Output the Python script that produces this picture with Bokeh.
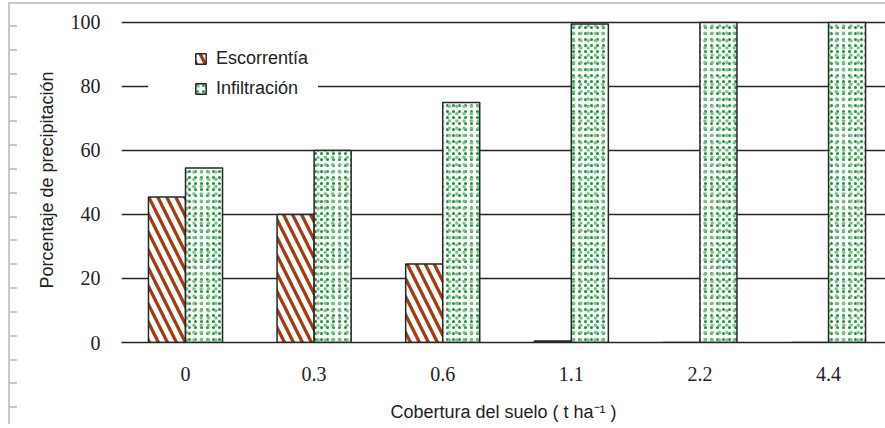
from bokeh.plotting import figure
from bokeh.models import (ColumnDataSource, Range1d, FixedTicker, Legend, LegendItem,
                          BoxAnnotation)
from bokeh.transform import dodge
from bokeh.embed import file_html
from bokeh.resources import INLINE

# ---- data ----
categories = ["0", "0.3", "0.6", "1.1", "2.2", "4.4"]
escorrentia = [45.5, 40.0, 24.5, 0.5, 0.0, 0.0]
infiltracion = [54.5, 60.0, 75.0, 99.5, 100.0, 100.0]
y_ticks = [0, 20, 40, 60, 80, 100]

idx = list(range(len(categories)))
src = ColumnDataSource(dict(x=idx, esc=escorrentia, inf=infiltracion))

SANS = "Liberation Sans"
SERIF = "Liberation Serif"
DARK = "#262626"

p = figure(width=885, height=428, output_backend="svg", toolbar_location=None,
           x_range=Range1d(-0.4977, 5.443), y_range=Range1d(0, 101.56),
           min_border_left=121, min_border_right=0, min_border_top=17,
           min_border_bottom=86)
p.border_fill_color = None
p.background_fill_color = "white"
p.outline_line_color = None
p.styles = {
    "background-image": ("linear-gradient(#c9c9c9,#c9c9c9), linear-gradient(#c9c9c9,#c9c9c9), "
                         "repeating-linear-gradient(to bottom, #c9c9c9 0px, #c9c9c9 2px, "
                         "transparent 2px, transparent 23.83px)"),
    "background-size": "2px 422px, calc(100% - 8px) 2px, 9px 392px",
    "background-position": "8px 2px, 8px 2px, 8px 25px",
    "background-repeat": "no-repeat",
}

bw = 0.288
r_esc = p.vbar(x=dodge("x", -bw / 2, range=p.x_range), top="esc", width=bw, bottom=0,
               source=src, fill_color="white", line_color=DARK, line_width=1.5,
               hatch_pattern="\\", hatch_color="#a23c14", hatch_scale=18, hatch_weight=3.3)
r_inf = p.vbar(x=dodge("x", bw / 2, range=p.x_range), top="inf", width=bw, bottom=0,
               source=src, fill_color="white", line_color=None,
               hatch_pattern=".", hatch_color="#1d8c3c", hatch_scale=6, hatch_weight=3)
r_inf2 = p.vbar(x=dodge("x", bw / 2, range=p.x_range), top="inf", width=bw, bottom=0,
                source=src, fill_color=None, line_color=DARK, line_width=1.5,
                hatch_pattern=".", hatch_color="#74c486", hatch_scale=7.3, hatch_weight=2.5)

# grid
p.xgrid.visible = False
p.ygrid.ticker = FixedTicker(ticks=y_ticks)
p.ygrid.grid_line_color = DARK
p.ygrid.grid_line_width = 1.3

# y axis
ya = p.yaxis[0]
ya.ticker = FixedTicker(ticks=y_ticks)
ya.axis_line_color = None
ya.major_tick_line_color = None
ya.minor_tick_line_color = None
ya.major_label_standoff = 15
ya.major_label_text_font = SERIF
ya.major_label_text_font_size = "20px"
ya.major_label_text_color = "#222222"
ya.axis_label = "Porcentaje de precipitación"
ya.axis_label_text_font = SANS
ya.axis_label_text_font_size = "18px"
ya.axis_label_text_font_style = "normal"
ya.axis_label_text_color = "#222222"
ya.axis_label_standoff = 11

# x axis
xa = p.xaxis[0]
xa.ticker = FixedTicker(ticks=idx)
xa.major_label_overrides = {i: c for i, c in zip(idx, categories)}
xa.axis_line_color = DARK
xa.axis_line_width = 1.5
xa.major_tick_line_color = None
xa.minor_tick_line_color = None
xa.major_label_standoff = 18
xa.major_label_text_font = SERIF
xa.major_label_text_font_size = "20px"
xa.major_label_text_color = "#222222"
xa.axis_label = "Cobertura del suelo ( t ha\u207b\u00b9 )"
xa.axis_label_text_font = SANS
xa.axis_label_text_font_size = "18px"
xa.axis_label_text_font_style = "normal"
xa.axis_label_text_color = "#222222"
xa.axis_label_standoff = 18

# legend background
p.add_layout(BoxAnnotation(left=-0.29, right=1.03, bottom=74.5, top=97,
                           fill_color="white", fill_alpha=1.0, line_color=None))

legend = Legend(items=[LegendItem(label="Escorrentía", renderers=[r_esc]),
                       LegendItem(label="Infiltración", renderers=[r_inf, r_inf2])],
                location=(73, 243), padding=0, margin=0, spacing=9,
                glyph_width=13, glyph_height=13, label_height=20, label_standoff=9,
                label_text_font=SANS, label_text_font_size="18px",
                label_text_color="#222222", border_line_color=None,
                background_fill_color=None)
p.add_layout(legend, "center")

open("out.html", "w").write(file_html(p, INLINE))
